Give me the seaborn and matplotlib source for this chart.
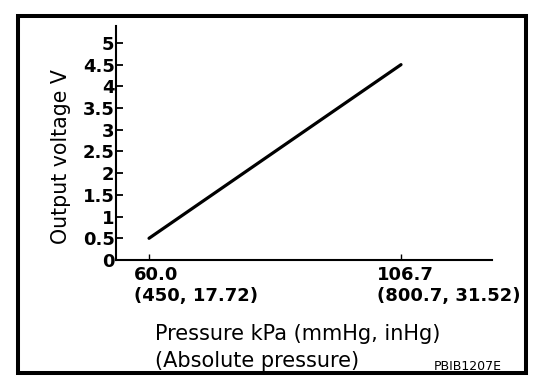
import matplotlib
matplotlib.use('Agg')
import pandas as pd
import seaborn as sns
from matplotlib import pyplot as plt
from matplotlib.patches import Rectangle

# data
pressure_kpa = [60.0, 106.7]
output_voltage = [0.5, 4.5]
x_tick_values = [60.0, 106.7]
x_tick_text = ['60.0\n(450, 17.72)', '106.7\n(800.7, 31.52)']
y_tick_values = [0, 0.5, 1, 1.5, 2, 2.5, 3, 3.5, 4, 4.5, 5]

sns.set_style('white')
plt.rcParams['font.family'] = ['DejaVu Sans']
plt.rcParams['text.color'] = 'black'
plt.rcParams['axes.labelcolor'] = 'black'

df = pd.DataFrame({'Pressure': pressure_kpa, 'Voltage': output_voltage})

fig = plt.figure(figsize=(5.6, 3.88), dpi=100)
ax = fig.add_axes([116 / 560, 1 - 260 / 388, 376 / 560, 234 / 388])

sns.lineplot(data=df, x='Pressure', y='Voltage', color='black', linewidth=2.3, ax=ax)

ax.set_xlim(53.88, 123.56)
ax.set_ylim(0, 5.39)

for side in ['top', 'right']:
    ax.spines[side].set_visible(False)
for side in ['left', 'bottom']:
    ax.spines[side].set_color('black')
    ax.spines[side].set_linewidth(1.5)

ax.set_yticks(y_tick_values)
ax.set_yticklabels(['%g' % v for v in y_tick_values], fontweight='bold', fontsize=13)
ax.tick_params(axis='y', direction='in', length=5, width=1.3, pad=1,
               colors='black', labelcolor='black', left=True)

ax.set_xticks(x_tick_values)
ax.set_xticklabels(['', ''])
ax.tick_params(axis='x', direction='in', length=4, width=1.0, colors='black', bottom=True)

# two-line tick labels, both left aligned, shifted left of their tick
for val, txt, dx in zip(x_tick_values, x_tick_text, [-10.8, -17.3]):
    ax.annotate(txt, xy=(val, 0), xycoords=('data', 'axes fraction'),
                xytext=(dx, -4.5), textcoords='offset points', ha='left', va='top',
                multialignment='left', fontweight='bold', fontsize=13, linespacing=1.22,
                color='black')

ax.set_xlabel('Pressure kPa (mmHg, inHg)\n(Absolute pressure)', fontsize=15,
              ha='left', va='top', linespacing=1.45, color='black')
ax.xaxis.set_label_coords(39 / 376, -64 / 234)
ax.set_ylabel('Output voltage V', fontsize=14.8, color='black')
ax.yaxis.set_label_coords(-45 / 376, 103 / 234)

fig.text(434 / 560, 1 - 366 / 388, 'PBIB1207E', fontsize=9, va='center', ha='left',
         color='black')

fig.patches.append(Rectangle((17.5 / 560, 1 - 372.5 / 388), 508.5 / 560, 357 / 388,
                             transform=fig.transFigure, fill=False,
                             edgecolor='black', linewidth=2.9))

fig.savefig('out.png', dpi=100)
